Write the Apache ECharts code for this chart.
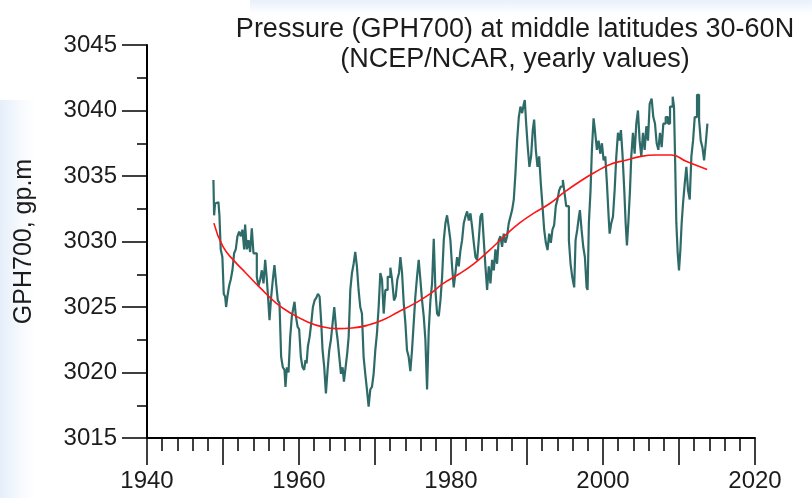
<!DOCTYPE html>
<html>
<head>
<meta charset="utf-8">
<script src="https://cdn.jsdelivr.net/npm/echarts@6/dist/echarts.min.js"></script>
<style>
  html, body { margin: 0; padding: 0; background: #fff; }
  #chart {
    width: 812px; height: 498px;
    background:
      linear-gradient(to right, rgba(222,234,248,0.8) 0px, rgba(238,244,252,0.5) 20px, rgba(255,255,255,0) 36px) 0 100px / 36px 398px no-repeat,
      linear-gradient(to bottom, rgba(224,235,249,0.75) 0px, rgba(255,255,255,0) 14px) 250px 0 / 562px 14px no-repeat,
      #fff;
  }
</style>
</head>
<body>
<div id="chart"></div>
<script>
// ---- data ----
const titleLines = ['Pressure (GPH700) at middle latitudes 30-60N', '(NCEP/NCAR, yearly values)'];
const yAxisName = 'GPH700, gp.m';

const gphYears = [
1948.74,1948.83,1948.96,1949.18,1949.40,1949.53,1949.70,1949.92,1950.10,1950.28,1950.41,1950.58,1950.80,1951.02,1951.24,1951.46,1951.68,1951.90,
1952.12,1952.34,1952.56,1952.78,1952.91,1953.13,1953.35,1953.57,1953.79,1954.01,1954.23,1954.45,1954.67,1954.89,1955.11,1955.33,1955.55,1955.77,
1955.98,1956.12,1956.34,1956.56,1956.77,1956.99,1957.21,1957.43,1957.65,1957.87,1958.09,1958.22,1958.40,1958.62,1958.84,1959.06,1959.28,1959.41,
1959.59,1959.81,1960.02,1960.24,1960.46,1960.68,1960.85,1961.00,1961.17,1961.39,1961.61,1961.83,1962.05,1962.27,1962.49,1962.71,1962.93,1963.10,
1963.32,1963.54,1963.76,1963.98,1964.20,1964.42,1964.64,1964.86,1965.08,1965.30,1965.52,1965.74,1965.91,1966.13,1966.35,1966.53,1966.75,1966.97,
1967.19,1967.40,1967.62,1967.84,1968.06,1968.28,1968.50,1968.72,1968.94,1969.16,1969.38,1969.60,1969.82,1970.04,1970.26,1970.48,1970.70,1970.92,
1971.14,1971.36,1971.67,1972.02,1972.24,1972.50,1972.72,1972.94,1973.16,1973.34,1973.56,1973.78,1974.00,1974.21,1974.43,1974.65,1974.87,1975.09,
1975.31,1975.53,1975.75,1975.97,1976.19,1976.41,1976.63,1976.85,1977.07,1977.29,1977.51,1977.73,1977.95,1978.17,1978.39,1978.61,1978.83,1979.05,
1979.27,1979.48,1979.70,1979.92,1980.14,1980.36,1980.58,1980.80,1981.02,1981.24,1981.46,1981.68,1981.90,1982.12,1982.34,1982.56,1982.78,1983.00,
1983.22,1983.44,1983.65,1983.87,1984.09,1984.31,1984.53,1984.75,1984.97,1985.19,1985.41,1985.63,1985.85,1986.06,1986.28,1986.50,1986.72,1986.94,
1987.16,1987.38,1987.60,1987.82,1988.04,1988.26,1988.48,1988.70,1988.92,1989.14,1989.36,1989.58,1989.71,1989.89,1990.10,1990.32,1990.54,1990.76,
1990.94,1991.16,1991.38,1991.60,1991.82,1992.04,1992.26,1992.48,1992.70,1992.92,1993.14,1993.35,1993.57,1993.79,1994.01,1994.23,1994.45,1994.72,
1994.94,1995.16,1995.51,1995.73,1995.95,1996.21,1996.39,1996.61,1996.83,1996.96,1997.18,1997.40,1997.62,1997.84,1997.97,1998.14,1998.36,1998.54,
1998.76,1998.98,1999.20,1999.42,1999.64,1999.86,2000.08,2000.30,2000.52,2000.74,2000.87,2001.09,2001.31,2001.53,2001.75,2001.97,2002.18,2002.36,
2002.58,2002.80,2002.98,2003.15,2003.33,2003.55,2003.72,2003.94,2004.16,2004.38,2004.60,2004.82,2005.04,2005.26,2005.48,2005.70,2005.92,2006.14,
2006.40,2006.62,2006.84,2007.06,2007.28,2007.50,2007.72,2007.94,2008.25,2008.55,2008.82,2009.17,2009.34,2009.48,2009.65,2009.83,2010.00,2010.18,
2010.35,2010.53,2010.75,2010.97,2011.19,2011.41,2011.63,2011.85,2012.07,2012.37,2012.64,2012.86,2013.08,2013.30,2013.52,2013.74
];
const gphValues = [
3034.7,3032.0,3032.9,3033.0,3032.9,3032.0,3029.4,3028.8,3026.0,3025.8,3025.0,3025.8,3026.6,3027.1,3027.8,3029.1,3029.4,3030.4,
3030.75,3030.4,3030.9,3029.4,3031.3,3029.4,3030.1,3029.2,3031.0,3029.1,3029.1,3027.3,3026.6,3027.1,3027.8,3026.8,3028.6,3027.1,
3025.3,3024.0,3025.8,3027.1,3028.2,3026.8,3025.5,3025.3,3021.2,3020.4,3020.2,3018.9,3020.4,3020.0,3022.7,3024.3,3025.0,3025.4,
3024.3,3023.5,3023.3,3021.2,3020.4,3020.2,3020.95,3020.7,3022.0,3022.7,3023.75,3025.0,3025.5,3025.7,3026.0,3025.8,3023.75,3021.7,
3020.4,3018.4,3020.2,3021.7,3022.5,3023.75,3025.0,3023.5,3022.5,3021.2,3019.9,3020.4,3019.3,3020.4,3021.5,3022.7,3026.3,3027.6,
3028.3,3029.2,3028.1,3026.3,3025.0,3024.5,3021.2,3019.9,3018.7,3017.4,3018.7,3018.9,3019.9,3021.7,3023.0,3025.0,3027.6,3027.1,
3024.5,3026.3,3027.3,3028.0,3027.1,3025.5,3025.8,3027.1,3027.6,3028.8,3027.6,3025.3,3023.75,3021.7,3021.2,3020.1,3021.7,3023.75,
3025.8,3027.3,3028.6,3027.1,3025.5,3024.3,3022.5,3018.7,3023.2,3025.5,3026.8,3030.2,3026.3,3024.5,3024.3,3025.5,3027.3,3030.1,
3031.4,3032.0,3031.1,3030.1,3028.1,3026.5,3027.6,3028.8,3028.1,3029.3,3030.1,3031.4,3031.9,3032.3,3031.6,3032.15,3031.1,3029.9,
3028.8,3028.6,3030.1,3031.9,3032.15,3030.1,3028.1,3026.3,3028.1,3026.8,3028.6,3027.8,3029.4,3028.3,3030.1,3030.4,3029.6,3030.6,
3029.9,3030.4,3031.4,3031.9,3032.4,3033.2,3035.2,3037.7,3039.5,3040.3,3039.8,3040.5,3040.8,3039.0,3037.2,3035.7,3036.5,3038.5,
3039.3,3037.0,3035.7,3036.5,3034.4,3032.7,3030.9,3029.9,3029.35,3030.6,3029.9,3030.9,3031.25,3032.7,3033.2,3033.9,3034.2,3034.7,
3033.7,3032.7,3030.1,3028.3,3027.3,3026.5,3030.1,3030.9,3031.9,3032.4,3030.9,3029.6,3028.8,3026.5,3026.3,3031.4,3033.9,3037.0,
3039.4,3038.3,3037.0,3037.7,3036.7,3037.5,3036.2,3036.5,3034.4,3031.9,3030.6,3031.4,3031.9,3033.9,3036.5,3038.3,3037.7,3038.5,
3036.5,3033.9,3031.4,3029.7,3031.4,3033.9,3036.5,3038.3,3036.7,3039.0,3040.0,3037.7,3036.5,3038.3,3037.0,3038.8,3037.7,3040.5,
3040.9,3039.5,3039.0,3037.5,3037.0,3038.3,3037.2,3039.0,3039.5,3039.0,3040.3,3041.05,3040.3,3036.5,3031.4,3029.1,3027.8,3029.35,
3031.4,3032.9,3034.4,3035.7,3033.9,3033.2,3036.5,3037.7,3039.5,3041.2,3039.3,3037.7,3037.2,3036.2,3037.5,3039.0
];

const trendYears = [1948.8,1950,1951.5,1953,1955,1957,1959,1961,1963,1965,1967,1969,1971,1973,1975,1977,1979,1981,1983,1985,1987,1989,1991,1993,1995,1997,1999,2001,2003,2005,2007,2009,2011,2013.7];
const trendValues = [3031.4,3029.6,3028.5,3027.6,3026.4,3025.3,3024.5,3023.9,3023.5,3023.35,3023.4,3023.6,3024.0,3024.6,3025.2,3025.9,3026.8,3027.5,3028.3,3029.3,3030.4,3031.4,3032.2,3032.9,3033.8,3034.6,3035.3,3035.9,3036.2,3036.5,3036.6,3036.6,3036.1,3035.5];

const xTickLabels = [1940, 1960, 1980, 2000, 2020];
const yRange = [3015, 3045];

// ---- chart ----
const FONT = "'Liberation Sans', Arial, sans-serif";
const TXT = '#1c1c1c';
const chart = echarts.init(document.getElementById('chart'), null, { renderer: 'canvas' });
chart.setOption({
  animation: false,
  backgroundColor: 'transparent',
  title: {
    text: titleLines.join('\n'),
    left: 515,
    top: 15,
    padding: 0,
    textAlign: 'center',
    textStyle: { fontFamily: FONT, fontSize: 27, fontWeight: 'normal', color: TXT, lineHeight: 30 }
  },
  grid: { left: 147, right: 57, top: 45, bottom: 60, containLabel: false },
  xAxis: {
    type: 'value',
    min: 1940, max: 2020, interval: 10,
    axisLine: { lineStyle: { color: '#000', width: 2 } },
    axisTick: { length: 27, lineStyle: { color: '#000', width: 1.5 } },
    minorTick: { show: true, splitNumber: 5, length: 13, lineStyle: { color: '#000', width: 1.5 } },
    splitLine: { show: false },
    axisLabel: {
      margin: 31, fontFamily: FONT, fontSize: 24, color: TXT,
      formatter: v => (xTickLabels.indexOf(v) >= 0 ? String(v) : '')
    }
  },
  yAxis: {
    type: 'value',
    min: yRange[0], max: yRange[1], interval: 5,
    name: yAxisName,
    nameLocation: 'middle',
    nameGap: 110,
    nameRotate: 90,
    nameTextStyle: { fontFamily: FONT, fontSize: 25, color: TXT },
    axisLine: { show: true, lineStyle: { color: '#000', width: 2 } },
    axisTick: { show: true, length: 25, lineStyle: { color: '#000', width: 1.5 } },
    minorTick: { show: true, splitNumber: 2, length: 10, lineStyle: { color: '#000', width: 1.5 } },
    splitLine: { show: false },
    axisLabel: { margin: 30, fontFamily: FONT, fontSize: 24, color: TXT, formatter: v => String(v) }
  },
  series: [
    {
      type: 'line',
      data: gphYears.map((y, i) => [y, gphValues[i]]),
      showSymbol: false,
      symbol: 'none',
      step: 'end',
      lineStyle: { color: '#2e6b68', width: 2.2 },
      z: 2
    },
    {
      type: 'line',
      data: trendYears.map((y, i) => [y, trendValues[i]]),
      showSymbol: false,
      symbol: 'none',
      smooth: true,
      lineStyle: { color: '#ff1414', width: 1.6 },
      z: 3
    }
  ]
});
</script>
</body>
</html>
